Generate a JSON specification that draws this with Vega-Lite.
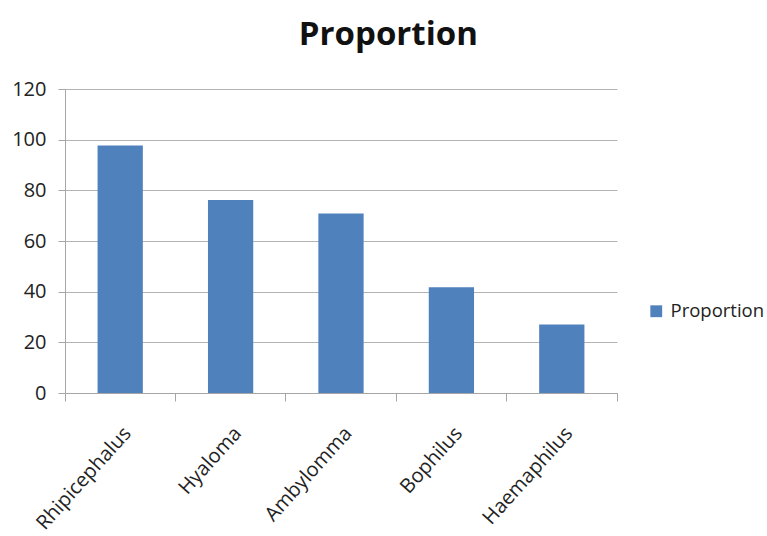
{
  "$schema": "https://vega.github.io/schema/vega-lite/v6.json",
  "autosize": "none",
  "width": 552,
  "height": 304,
  "padding": {"left": 65, "top": 89, "right": 150, "bottom": 143},
  "background": "white",
  "title": {
    "text": "Proportion",
    "font": "Open Sans",
    "fontSize": 33,
    "fontWeight": "bold",
    "color": "#111111",
    "anchor": "middle",
    "frame": "bounds",
    "offset": 27
  },
  "data": {
    "values": [
      {"genus": "Rhipicephalus", "value": 97.7, "series": "Proportion"},
      {"genus": "Hyaloma", "value": 76.2, "series": "Proportion"},
      {"genus": "Ambylomma", "value": 70.9, "series": "Proportion"},
      {"genus": "Bophilus", "value": 41.7, "series": "Proportion"},
      {"genus": "Haemaphilus", "value": 27, "series": "Proportion"}
    ]
  },
  "mark": {"type": "bar", "width": {"band": 0.41}},
  "encoding": {
    "x": {
      "field": "genus",
      "type": "nominal",
      "sort": null,
      "title": null,
      "scale": {"paddingInner": 0, "paddingOuter": 0},
      "axis": {
        "labelAngle": -48,
        "labelAlign": "right",
        "labelBaseline": "top",
        "labelFont": "Open Sans",
        "labelFontSize": 20,
        "labelColor": "#222222",
        "labelPadding": 22,
        "domainColor": "#a6a6a6",
        "tickColor": "#a6a6a6",
        "tickSize": 8,
        "bandPosition": 1,
        "tickExtra": true,
        "grid": false
      }
    },
    "y": {
      "field": "value",
      "type": "quantitative",
      "title": null,
      "scale": {"domain": [0, 120], "nice": false},
      "axis": {
        "values": [0, 20, 40, 60, 80, 100, 120],
        "labelFont": "Open Sans",
        "labelFontSize": 20,
        "labelColor": "#222222",
        "labelPadding": 12,
        "domainColor": "#a6a6a6",
        "tickColor": "#a6a6a6",
        "tickSize": 7,
        "gridColor": "#b3b3b3",
        "gridWidth": 1.2
      }
    },
    "color": {
      "field": "series",
      "type": "nominal",
      "scale": {"range": ["#4F81BD"]},
      "legend": {
        "title": null,
        "orient": "none",
        "legendX": 582,
        "legendY": 213,
        "symbolType": "square",
        "symbolSize": 140,
        "labelFont": "Open Sans",
        "labelFontSize": 18.5,
        "labelColor": "#222222",
        "labelOffset": 5,
        "labelLimit": 200
      }
    }
  },
  "config": {
    "view": {"stroke": null}
  }
}
